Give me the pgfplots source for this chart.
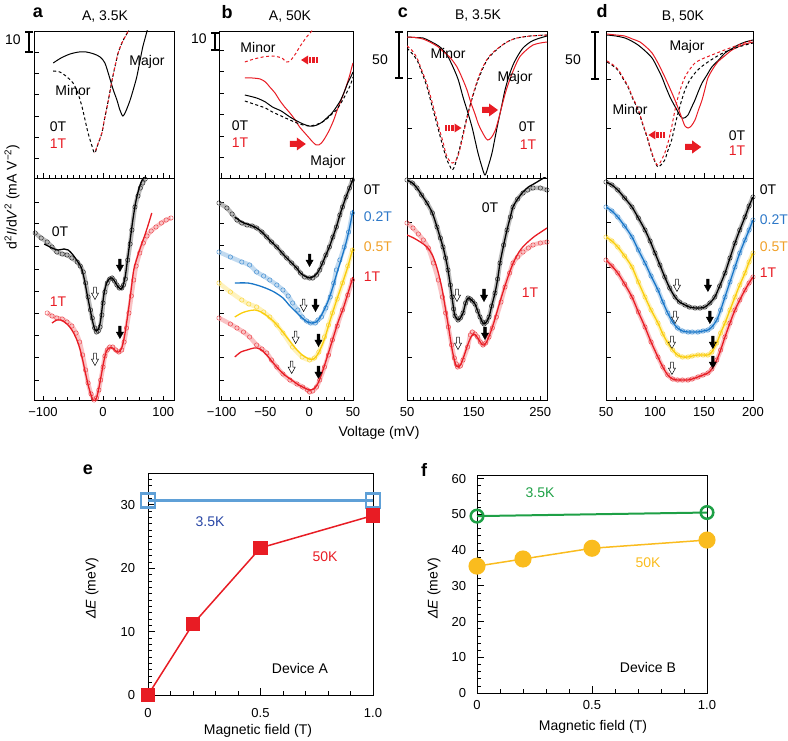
\documentclass[border=0pt]{standalone}
\usepackage{fontspec}
\setmainfont{Liberation Sans}
\usepackage{pgfplots}
\pgfplotsset{compat=1.18}
\usepackage{pgfplotstable}

\definecolor{myred}{RGB}{232,28,36}
\definecolor{myblue}{RGB}{25,118,200}
\definecolor{myyellow}{RGB}{250,205,10}
\definecolor{lblorange}{RGB}{240,160,40}
\definecolor{lblblue}{RGB}{45,120,200}
\definecolor{eblue}{RGB}{95,160,215}
\definecolor{etext}{RGB}{40,70,165}
\definecolor{fgreen}{RGB}{30,160,70}
\definecolor{forange}{RGB}{250,188,30}

\pgfplotsset{
  myax/.style={scale only axis, anchor=south west, tick align=inside, tick pos=left,
    axis line style={line width=0.7pt}, tick style={black, line width=0.6pt},
    major tick length=4.5pt, minor tick length=3pt,
    ticklabel style={font=\fontsize{13}{15}\selectfont},
    /pgf/number format/assume math mode=true, yticklabels={},
    xticklabel style={yshift=-3pt}},
  toppan/.style={myax, xticklabels={}, height=147pt, ymin=-178, ymax=-31},
  botpan/.style={myax, height=222pt, ymin=-400, ymax=-178},
  % measured points: a light band with open circles
  circ/.style={#1!45, opacity=0.6, line width=4.5pt, smooth, mark=o, mark size=2.2pt,
    mark options={#1, line width=0.45pt, opacity=0.8}},
  fitline/.style={#1, line width=1.3pt, smooth},
  curve/.style={#1, line width=1pt, smooth},
  dcurve/.style={#1, line width=1pt, smooth, dash pattern=on 3pt off 2.5pt},
}

% peak markers and shift arrows (all offsets carry units, so axis cs is not used for them)
\newcommand{\openarr}[2]{\draw[black, line width=0.5pt, fill=white] (axis cs:#1,#2) ++(-1.3pt,6pt) -- ++(0pt,-6pt) -- ++(-2.3pt,0pt) -- ++(3.6pt,-6.5pt) -- ++(3.6pt,6.5pt) -- ++(-2.3pt,0pt) -- ++(0pt,6pt) -- cycle;}
\newcommand{\fullarr}[2]{\draw[black, line width=0.5pt, fill=black] (axis cs:#1,#2) ++(-1.3pt,6pt) -- ++(0pt,-6pt) -- ++(-2.3pt,0pt) -- ++(3.6pt,-6.5pt) -- ++(3.6pt,6.5pt) -- ++(-2.3pt,0pt) -- ++(0pt,6pt) -- cycle;}
\newcommand{\bigarr}[2]{\fill[myred] (axis cs:#1,#2) ++(-8pt,3pt) -- ++(7pt,0pt) -- ++(0pt,3.5pt) -- ++(9pt,-6.5pt) -- ++(-9pt,-6.5pt) -- ++(0pt,3.5pt) -- ++(-7pt,0pt) -- cycle;}
\newcommand{\stripL}[2]{\fill[myred] (axis cs:#1,#2) ++(-8.5pt,0pt) -- ++(7pt,4.5pt) -- ++(0pt,-9pt) -- cycle;
  \fill[myred] (axis cs:#1,#2) ++(-0.5pt,-3pt) rectangle ++(2.2pt,6pt);
  \fill[myred] (axis cs:#1,#2) ++(2.8pt,-3pt) rectangle ++(2.2pt,6pt);
  \fill[myred] (axis cs:#1,#2) ++(6.1pt,-3pt) rectangle ++(2.2pt,6pt);}
\newcommand{\stripR}[2]{\fill[myred] (axis cs:#1,#2) ++(8.5pt,0pt) -- ++(-7pt,4.5pt) -- ++(0pt,-9pt) -- cycle;
  \fill[myred] (axis cs:#1,#2) ++(-1.7pt,-3pt) rectangle ++(2.2pt,6pt);
  \fill[myred] (axis cs:#1,#2) ++(-5pt,-3pt) rectangle ++(2.2pt,6pt);
  \fill[myred] (axis cs:#1,#2) ++(-8.3pt,-3pt) rectangle ++(2.2pt,6pt);}
\newcommand{\scalebar}[3]{\draw[line width=1.8pt] (#1,#2) -- (#1,#3);
  \draw[line width=1.5pt] (#1-4,#2) -- (#1+4,#2) (#1-4,#3) -- (#1+4,#3);}

% device B, 50 K: measured curves (fits lie on them)
\pgfplotstableread{
x y
50 -182
56 -185
62 -190
69 -198
76.5 -207
83 -218
89.8 -230
95 -241
100 -253
105 -265
110 -277
115 -288
120.4 -297
125 -302
130.6 -305
135 -307
140.8 -308
146 -308
151 -307
156 -303
161 -297
166 -286
171.4 -273
176.5 -258
181.6 -243
186.5 -230
191.8 -217
196 -206
200 -197
}\dzero
\pgfplotstableread{
x y
50 -207
56 -211
62 -217
69 -226
76.5 -237
83 -250
89.8 -263
96 -276
103 -290
108 -302
113 -313
118 -322
123 -328
128 -331
133.7 -332
138 -332
143.8 -332
149 -331
154 -330
158 -327
163 -320
167 -310
171.4 -297
176.5 -282
181.6 -267
186.5 -253
191.8 -240
196 -230
200 -220
}\dtwo
\pgfplotstableread{
x y
50 -237
56 -241
62 -247
69 -256
76.5 -267
83 -282
89.8 -297
96 -310
103 -323
108 -334
113 -343
118 -350
123 -355
128 -357
133.7 -357
138 -356
143.8 -355
149 -355
154 -355
158 -352
163 -343
167 -333
171.4 -323
176.5 -310
181.6 -297
186.5 -285
191.8 -273
196 -262
200 -253
}\dfive
\pgfplotstableread{
x y
50 -260
56 -266
62 -273
69 -284
76.5 -297
83 -312
89.8 -327
96 -342
103 -357
108 -367
113 -375
118 -379
123 -380
128 -380
133.7 -380
138 -379
143.8 -377
149 -375
154 -373
158 -369
163 -360
167 -350
171.4 -337
176.5 -323
181.6 -310
186.5 -300
191.8 -290
196 -283
200 -277
}\done

\begin{document}
\fontsize{14}{16}\selectfont
\begin{tikzpicture}[x=1pt,y=1pt]
\useasboundingbox (0,0) rectangle (788,-741);

% ---------- a top ----------
\begin{axis}[toppan, at={(34pt,-178pt)}, width=140pt, xmin=-115, xmax=118,
  xtick={-100,0,100}, minor xtick={-110,-100,...,110},
  ytick={-158,-137,-116,-94,-73,-52}]
\addplot[curve=black] coordinates {(-83,-63) (-70,-58) (-55,-54) (-40,-52) (-28,-52) (-15,-54) (-5,-57) (3,-63) (11,-78) (17,-90) (23,-100) (28,-110) (33,-116) (38,-111) (45,-100) (51,-88) (56,-77) (61,-62) (66,-47) (70,-38) (74,-29)};
\addplot[dcurve=black] coordinates {(-83,-71) (-72,-72) (-62,-76) (-50,-83) (-42,-93) (-35,-107) (-30,-120) (-25,-133) (-19,-145) (-14,-153) (-8,-143) (-2,-133) (2,-120) (6.5,-107) (11,-93) (15,-80) (20,-66) (25,-53) (32,-42) (41,-32) (45,-26)};
\addplot[dcurve=myred, dash phase=2.8pt] coordinates {(-14,-153) (-8,-143) (-2,-133) (2,-120) (6.5,-107) (11,-93) (15,-80) (20,-66) (25,-53) (32,-42) (41,-32) (45,-26)};
\end{axis}

% ---------- a bottom ----------
\begin{axis}[botpan, at={(34pt,-400pt)}, width=140pt, xmin=-115, xmax=118,
  xtick={-100,0,100}, xticklabels={−100,0,100}, minor xtick={-100,-80,...,100},
  ytick={-380,-357,-335,-313,-291,-269,-246,-223,-202}]
\addplot[circ=black] coordinates {(-113,-233) (-103,-238) (-93,-242) (-85,-247) (-77,-252) (-68,-254) (-60,-255) (-52,-258) (-43,-262) (-38,-266) (-33,-272) (-29,-283) (-25,-297) (-21,-310) (-18,-318) (-14,-328) (-11,-332) (-8,-331) (-5,-327) (-2,-315) (0,-303) (3,-292) (7,-283) (11,-279) (15,-278) (19,-281) (23,-285) (27,-288) (31,-288) (34,-285) (37,-279) (41,-260) (45,-244) (48,-230) (53,-207) (58,-196) (62,-188) (66,-183) (70,-179)};
\addplot[fitline=black] coordinates {(-98,-244) (-85,-248) (-75,-250) (-65,-249) (-58,-250) (-50,-255) (-43,-261) (-36,-268) (-31,-280) (-27,-293) (-22,-308) (-18,-320) (-14,-329) (-11,-331) (-7,-328) (-4,-320) (-1,-305) (2,-292) (6,-283) (10,-279) (15,-278) (20,-282) (25,-287) (30,-289) (33,-286) (37,-276) (41,-258) (45,-240) (50,-218) (55,-200) (60,-188) (65,-180) (70,-176)};
\addplot[circ=myred] coordinates {(-93,-313) (-85,-316) (-77,-318) (-68,-319) (-60,-322) (-52,-326) (-45,-333) (-39,-342) (-34,-355) (-29,-370) (-25,-383) (-20,-394) (-15,-400) (-11,-398) (-7,-390) (-4,-380) (0,-367) (3,-356) (7,-350) (11,-347) (16,-347) (21,-350) (26,-352) (31,-350) (35,-342) (39,-328) (43,-313) (47,-296) (51,-280) (55,-266) (61,-253) (67,-243) (73,-236) (80,-231) (88,-227) (97,-223) (105,-220) (113,-218)};
\addplot[fitline=myred] coordinates {(-85,-323) (-77,-320) (-70,-320) (-60,-324) (-52,-330) (-45,-338) (-39,-348) (-34,-360) (-29,-374) (-24,-387) (-19,-397) (-15,-401) (-11,-398) (-7,-388) (-3,-375) (1,-362) (5,-352) (10,-348) (16,-348) (21,-351) (26,-352) (31,-348) (36,-335) (41,-315) (46,-293) (51,-270) (57,-257) (63,-246) (69,-236) (75,-225) (81,-213)};
\openarr{-13.5}{-293} \fullarr{28}{-265}
\openarr{-13.5}{-359} \fullarr{28}{-332}
\end{axis}

% ---------- b top ----------
\begin{axis}[toppan, at={(219pt,-178pt)}, width=134pt, xmin=-103, xmax=50,
  xtick={-100,-50,0,50}, minor xtick={-100,-90,...,50},
  ytick={-157,-136,-114,-93,-71,-50}]
\addplot[dcurve=myred] coordinates {(-73.5,-62) (-63,-59) (-53,-57) (-42,-56) (-35,-57) (-31,-58) (-26,-62) (-22,-61) (-19,-58) (-15,-53) (-11,-47) (-7,-42) (-3,-37) (1,-33) (4,-30)};
\addplot[curve=myred] coordinates {(-73.5,-78) (-65,-78) (-56,-79) (-50,-82) (-45,-87) (-39,-93) (-34,-100) (-28,-107) (-22,-113) (-16,-120) (-11,-127) (-5,-133) (0,-138) (4,-142) (8,-145) (11,-145) (14,-143) (18,-138) (23,-130) (28,-120) (32,-110) (37,-99) (42,-87) (46,-76) (49,-66) (50,-63)};
\addplot[curve=black] coordinates {(-73.5,-95) (-60,-98) (-50,-102) (-42,-107) (-32,-111) (-22,-117) (-14,-121) (-7,-124) (0,-126) (5,-126) (9,-125) (15,-122) (20,-118) (26,-113) (31,-107) (36,-100) (40,-92) (44,-83) (48,-76) (50,-72)};
\addplot[dcurve=black] coordinates {(-73.5,-101) (-60,-105) (-50,-108) (-42,-112) (-32,-116) (-22,-120) (-14,-123) (-7,-125) (0,-126) (4,-125.5) (10,-124) (15,-122) (20,-119) (26,-114) (31,-110) (37,-102) (42,-94) (47,-85) (50,-77)};
\stripL{0.4}{-60}
\bigarr{-13}{-144}
\end{axis}

% ---------- b bottom ----------
\begin{axis}[botpan, at={(219pt,-400pt)}, width=134pt, xmin=-103, xmax=50,
  xtick={-100,-50,0,50}, xticklabels={−100,−50,0,50}, minor xtick={-100,-90,...,50},
  ytick={-380,-357,-335,-313,-290,-268,-245,-223,-202}]
\addplot[circ=black] coordinates {(-103,-203) (-94,-208) (-88,-214) (-82.5,-220) (-77,-223) (-71,-225) (-65,-226) (-60,-228) (-54,-232) (-48.5,-237) (-43,-242) (-37,-247) (-31,-253) (-25.7,-258) (-20,-263) (-14.4,-268) (-10,-273) (-5.3,-277) (0.4,-278) (4,-278) (8.4,-275) (12,-270) (15.2,-263) (19,-255) (23,-247) (27,-237) (31,-227) (35,-215) (38,-207) (42,-197) (46,-188) (49.3,-180)};
\addplot[fitline=black] coordinates {(-85,-217) (-77,-222) (-71,-224) (-65,-226) (-60,-228) (-54,-232) (-48.5,-237) (-43,-242) (-37,-247) (-31,-253) (-25.7,-258) (-20,-263) (-14.4,-268) (-10,-273) (-5.3,-276) (0.4,-278) (4,-277) (8.4,-274) (12,-269) (15.2,-263) (19,-255) (23,-247) (27,-237) (31,-227) (35,-215) (38,-207) (42,-197) (46,-188) (50,-179)};
\addplot[circ=myblue] coordinates {(-103,-252) (-90,-257) (-77,-262) (-68,-265) (-60,-272) (-52,-276) (-45,-280) (-37,-285) (-30,-290) (-24,-296) (-18.9,-303) (-13,-310) (-8,-317) (-3,-321) (1.5,-323) (7,-323) (10,-320) (14,-317) (19,-308) (24,-297) (28,-283) (31,-270) (35,-260) (40,-247) (45,-232) (49.3,-213)};
\addplot[fitline=myblue] coordinates {(-85,-283) (-70,-283) (-60,-285) (-50,-288) (-40,-292) (-30,-298) (-22,-306) (-15,-312) (-8,-318) (-2,-322) (3,-323) (8,-322) (12,-318) (17,-310) (22,-300) (27,-287) (32,-272) (37,-258) (42,-243) (46,-228) (50,-210)};
\addplot[circ=myyellow] coordinates {(-103,-283) (-90,-292) (-77,-300) (-69,-304) (-60,-307) (-52,-312) (-45,-317) (-37,-325) (-30,-333) (-19,-347) (-8,-357) (0.4,-360) (6,-358) (11,-352) (17.5,-337) (22,-325) (26.5,-313) (32,-299) (38,-283) (44,-266) (49.3,-250)};
\addplot[fitline=myyellow] coordinates {(-85,-317) (-77,-313) (-70,-311) (-62,-310) (-55,-312) (-48,-316) (-40,-322) (-32,-330) (-24,-339) (-16,-348) (-8,-355) (0,-359) (5,-359) (10,-354) (17,-340) (24,-320) (31,-301) (38,-283) (44,-267) (50,-248)};
\addplot[circ=myred] coordinates {(-103,-318) (-90,-324) (-82.5,-328) (-75,-332) (-68,-337) (-60,-345) (-54,-349) (-48.5,-353) (-43,-360) (-37,-367) (-30,-374) (-22,-380) (-14,-384) (-7.5,-387) (-2,-390) (0.4,-392) (4,-391) (8.4,-387) (12,-380) (17.5,-367) (22,-355) (26.5,-340) (32,-326) (38,-310) (44,-295) (49.3,-280)};
\addplot[fitline=myred] coordinates {(-85,-357) (-78,-352) (-71,-350) (-63,-348) (-56,-349) (-48.5,-355) (-42,-362) (-35,-369) (-28,-375) (-20,-380) (-12,-385) (-5,-388) (0,-390) (5,-389) (9,-385) (13,-377) (18,-364) (23,-350) (28,-336) (33,-322) (39,-308) (44,-294) (50,-277)};
\fullarr{0.4}{-260}
\openarr{-6.4}{-305} \fullarr{7.2}{-305}
\openarr{-15.5}{-337} \fullarr{10.6}{-340}
\openarr{-20}{-367} \fullarr{10.6}{-372}
\end{axis}

% ---------- c top ----------
\begin{axis}[toppan, at={(407pt,-178pt)}, width=140pt, xmin=50, xmax=260,
  xtick={50,150,250}, minor xtick={50,60,...,260}, ytick={-128,-78}]
\addplot[curve=black] coordinates {(50,-37) (62,-37.5) (74,-38) (87,-42) (99.5,-47) (110,-55) (119,-67) (127,-80) (134,-97) (141,-112) (147.5,-127) (152,-140) (156.5,-153) (162,-166) (167,-175) (172,-166) (177.5,-153) (182,-138) (186.5,-123) (192,-106) (197,-90) (203,-76) (209,-65) (216,-56) (224,-48) (235,-42) (245,-39) (260,-36)};
\addplot[curve=myred] coordinates {(50,-37) (62,-37.5) (74,-39) (87,-43) (97,-47) (105,-52) (114,-57) (125,-67) (134,-80) (140,-90) (146,-103) (152,-114) (157,-124) (162,-131) (167,-137) (171,-140) (176,-138) (182,-131) (187,-120) (192,-107) (198,-92) (204,-80) (211,-68) (219,-57) (229,-50) (239,-45) (250,-43) (260,-42)};
\addplot[dcurve=black] coordinates {(50,-48) (57,-53) (65,-60) (72,-72) (80,-87) (86,-102) (92,-117) (98,-132) (104,-147) (110,-160) (115,-167) (117.5,-170) (121,-167) (125,-158) (129.5,-147) (135,-131) (140,-117) (147,-100) (155,-83) (162,-71) (170,-60) (179,-53) (189.5,-47) (200,-42) (215,-38) (235,-36) (260,-35)};
\addplot[dcurve=myred] coordinates {(50,-46) (57,-50) (65,-58) (72,-70) (80,-84) (86,-98) (92,-113) (98,-128) (104,-142) (109,-155) (114,-161) (118,-163) (122,-162) (127,-155) (132,-142) (137,-127) (143,-110) (150,-92) (158,-76) (166,-64) (175,-55) (187,-48) (200,-42) (215,-38) (235,-36) (260,-35)};
\stripR{119}{-128}
\bigarr{174.5}{-110}
\end{axis}

% ---------- c bottom ----------
\begin{axis}[botpan, at={(407pt,-400pt)}, width=140pt, xmin=50, xmax=260,
  xtick={50,150,250}, minor xtick={50,60,...,260}, ytick={-357,-312,-267,-222}]
\addplot[circ=black] coordinates {(50,-180) (58,-183) (65,-188) (72,-195) (80,-203) (88,-213) (95,-227) (100,-238) (104,-247) (108,-258) (111.5,-270) (115,-285) (117.5,-297) (120,-309) (122,-316) (126.5,-320) (130,-318) (134,-313) (138,-303) (141.5,-298) (145,-299) (148,-301) (152,-304) (156,-311) (159.5,-317) (163,-322) (165.5,-324) (169,-322) (173,-317) (177,-306) (182,-293) (186,-279) (189.5,-263) (195,-245) (200,-230) (205,-217) (209,-207) (216,-199) (224,-193) (231,-190) (239,-188) (250,-188) (260,-190)};
\addplot[fitline=black] coordinates {(50,-180) (58,-183) (65,-188) (72,-195) (80,-203) (88,-213) (95,-227) (100,-238) (104,-247) (108,-258) (111.5,-270) (115,-285) (117.5,-297) (120,-309) (122,-316) (126.5,-320) (130,-318) (134,-313) (138,-303) (141.5,-298) (145,-299) (148,-301) (152,-304) (156,-311) (159.5,-317) (163,-322) (165.5,-324) (169,-322) (173,-317) (177,-306) (182,-293) (186,-279) (189.5,-263) (195,-245) (200,-230) (205,-217) (209,-207) (216,-199) (224,-192) (232,-187) (240,-184) (250,-180) (260,-176)};
\addplot[circ=myred] coordinates {(50,-223) (59,-228) (67,-234) (74.5,-240) (82,-248) (89.5,-263) (97,-280) (103,-297) (108,-313) (112,-327) (117,-345) (121,-358) (124,-364) (126,-367) (130,-366) (134,-360) (141,-347) (145,-335) (148,-332) (152,-334) (156,-337) (160,-342) (164,-345) (168,-343) (173,-337) (178,-328) (184,-317) (191,-302) (197,-287) (204,-273) (209,-263) (216,-257) (224,-252) (232,-248) (239,-245) (250,-243) (260,-242)};
\addplot[fitline=myred] coordinates {(50,-235) (60,-238) (70,-242) (80,-247) (88,-255) (95,-268) (102,-287) (108,-310) (113,-330) (117,-347) (121,-360) (124,-366) (127,-367) (131,-364) (136,-355) (141,-345) (146,-337) (150,-334) (154,-336) (158,-340) (162,-344) (166,-345) (170,-341) (175,-333) (181,-321) (188,-305) (195,-290) (203,-274) (210,-262) (218,-252) (225,-246) (233,-241) (242,-236) (251,-232) (260,-228)};
\openarr{125}{-295} \fullarr{165.5}{-295}
\openarr{126.5}{-343} \fullarr{167}{-333}
\end{axis}

% ---------- d top ----------
\begin{axis}[toppan, at={(606pt,-178pt)}, width=147pt, xmin=50, xmax=200,
  xtick={50,100,150,200}, minor xtick={50,60,...,200}, ytick={-128,-79}]
\addplot[curve=black] coordinates {(51,-35) (60,-36) (69.4,-38) (76,-41) (82.7,-45) (90,-51) (97,-58) (102,-67) (107,-77) (111,-87) (115.3,-97) (119,-104) (122.4,-110) (125,-115) (127.6,-118) (131,-117.5) (133.7,-115) (137,-108) (140.8,-100) (144,-92) (148,-83) (153,-75) (158,-67) (165,-60) (171.4,-53) (178,-49) (184.7,-45) (192,-42) (200,-40)};
\addplot[curve=myred] coordinates {(51,-34) (60,-35) (69,-36) (77,-39) (84.7,-42) (91,-47) (97,-53) (103,-63) (110,-77) (117.3,-93) (122,-104) (125.5,-113) (128.5,-121) (130.6,-126) (133.7,-128) (137,-126) (140.8,-120) (144,-111) (148,-100) (151,-89) (154,-78) (159,-69) (164,-62) (171,-56) (178.6,-50) (189,-45) (200,-42)};
\addplot[dcurve=black] coordinates {(51,-62) (56,-65) (62,-70) (67,-78) (72.4,-87) (77,-98) (82.7,-110) (87,-123) (91.8,-137) (95,-148) (98,-157) (101,-164) (103,-167) (106,-165) (110,-160) (113,-151) (117,-140) (120,-127) (123.5,-113) (127,-101) (130.6,-90) (135,-81) (140.8,-73) (147,-67) (154,-62) (162,-57) (171.4,-52) (185,-47) (200,-43)};
\addplot[dcurve=myred] coordinates {(51,-61) (56,-64) (62,-69) (67,-77) (72.4,-86) (77,-97) (82.7,-109) (87,-122) (91.8,-136) (95,-147) (98,-156) (101,-163) (102.5,-165) (105,-163) (110,-153) (114,-140) (117,-127) (120,-112) (123.5,-97) (127,-86) (130.6,-77) (135,-70) (140.8,-63) (148,-59) (158,-55) (171,-50) (185,-45) (200,-40)};
\stripL{102}{-135}
\bigarr{139}{-147}
\end{axis}

% ---------- d bottom ----------
\begin{axis}[botpan, at={(606pt,-400pt)}, width=147pt, xmin=50, xmax=200,
  xtick={50,100,150,200}, minor xtick={50,60,...,200}, ytick={-357,-312,-267,-222}]
\addplot[circ=black] table {\dzero};
\addplot[fitline=black] table {\dzero};
\addplot[circ=myblue] table {\dtwo};
\addplot[fitline=myblue] table {\dtwo};
\addplot[circ=myyellow] table {\dfive};
\addplot[fitline=myyellow] table {\dfive};
\addplot[circ=myred] table {\done};
\addplot[fitline=myred] table {\done};
\openarr{122.4}{-285} \fullarr{154}{-285}
\openarr{120.4}{-317} \fullarr{156}{-317}
\openarr{117.3}{-342} \fullarr{159}{-342}
\openarr{117.3}{-368} \fullarr{159}{-362}
\end{axis}

% ---------- e ----------
\begin{axis}[scale only axis, anchor=south west, at={(148pt,-695pt)}, width=225pt, height=222pt,
  xmin=0, xmax=1, ymin=0, ymax=35, clip=false,
  xtick={0,0.5,1}, xticklabels={0,0.5,1.0}, minor xtick={0.1,0.2,0.3,0.4,0.6,0.7,0.8,0.9},
  ytick={0,10,20,30}, minor ytick={0,1,...,35},
  tick align=inside, tick pos=left, major tick length=7pt, minor tick length=4pt,
  axis line style={line width=0.7pt}, tick style={black, line width=0.6pt},
  ticklabel style={font=\fontsize{13}{15}\selectfont},
  /pgf/number format/assume math mode=true,
  xticklabel style={yshift=-9pt}, yticklabel style={xshift=-8pt}]
\addplot[eblue, line width=2.5pt, mark=square, mark size=7pt, mark options={line width=2.8pt}] coordinates {(0,30.7) (1,30.7)};
\addplot[myred, line width=1.5pt, mark=square*, mark size=6.5pt] coordinates {(0,0) (0.2,11.2) (0.5,23.2) (1,28.3)};
\end{axis}

% ---------- f ----------
\begin{axis}[scale only axis, anchor=south west, at={(477pt,-693pt)}, width=230pt, height=218pt,
  xmin=0, xmax=1, ymin=0, ymax=61, clip=false,
  xtick={0,0.5,1}, xticklabels={0,0.5,1.0}, minor xtick={0.1,0.2,0.3,0.4,0.6,0.7,0.8,0.9},
  ytick={0,10,...,60}, minor ytick={0,2,...,60},
  tick align=inside, tick pos=left, major tick length=7pt, minor tick length=4pt,
  axis line style={line width=0.7pt}, tick style={black, line width=0.6pt},
  ticklabel style={font=\fontsize{13}{15}\selectfont},
  /pgf/number format/assume math mode=true,
  xticklabel style={yshift=-3pt}, yticklabel style={xshift=-6pt}]
\addplot[fgreen, line width=2pt, mark=o, mark size=6.3pt, mark options={line width=2.5pt, fill=white}] coordinates {(0,49.5) (1,50.5)};
\addplot[forange, line width=1.5pt, mark=*, mark size=7.8pt] coordinates {(0,35.5) (0.2,37.5) (0.5,40.5) (1,42.8)};
\end{axis}

% ---------- annotations ----------
\begin{scope}[every node/.style={font=\fontsize{18}{20}\selectfont\bfseries}]
\node at (38,-13) {a}; \node at (227,-12) {b}; \node at (403,-13) {c};
\node at (602,-11) {d}; \node at (88,-470) {e}; \node at (424,-470) {f};
\end{scope}
\node at (105,-17) {A, 3.5K}; \node at (290,-17) {A, 50K};
\node at (478,-16) {B, 3.5K}; \node at (683,-17) {B, 50K};

\scalebar{29}{-32}{-52} \node at (13,-40) {10};
\scalebar{215}{-33}{-50} \node at (199,-39) {10};
\scalebar{399}{-32}{-78} \node at (380,-60) {50};
\scalebar{595}{-32}{-79} \node at (573,-60) {50};

\node at (147,-62) {Major}; \node at (73,-90) {Minor};
\node at (58,-127) {0T}; \node[myred] at (58,-144) {1T};
\node at (258,-47) {Minor}; \node at (328,-162) {Major};
\node at (240,-126) {0T}; \node[myred] at (240,-143) {1T};
\node at (448,-53) {Minor}; \node at (515,-78) {Major};
\node at (527,-127) {0T}; \node[myred] at (528,-145) {1T};
\node at (687,-47) {Major}; \node at (630,-109) {Minor};
\node at (737,-136) {0T}; \node[myred] at (737,-151) {1T};

\node at (60,-232) {0T}; \node[myred] at (58,-302) {1T};
\node[anchor=west] at (359,-190) {0T}; \node[anchor=west, lblblue] at (359,-217) {0.2T};
\node[anchor=west, lblorange] at (359,-247) {0.5T}; \node[anchor=west, myred] at (359,-277) {1T};
\node at (490,-208) {0T}; \node[myred] at (530,-293) {1T};
\node[anchor=west] at (755,-190) {0T}; \node[anchor=west, lblblue] at (755,-220) {0.2T};
\node[anchor=west, lblorange] at (755,-247) {0.5T}; \node[anchor=west, myred] at (755,-273) {1T};

\node at (379,-433) {Voltage (mV)};
\node[rotate=90] at (12,-197) {d\textsuperscript{2}\textit{I}/d\textit{V}\textsuperscript{2} (mA V\textsuperscript{−2})};

\node[etext] at (210,-522) {3.5K}; \node[myred] at (325,-557) {50K};
\node at (300,-668) {Device A};
\node[fgreen] at (540,-493) {3.5K}; \node[forange] at (648,-563) {50K};
\node at (648,-667) {Device B};
\node at (258,-731) {Magnetic field (T)};
\node at (593,-727) {Magnetic field (T)};
\node[rotate=90] at (92,-588) {\textit{ΔE} (meV)};
\node[rotate=90] at (434,-588) {\textit{ΔE} (meV)};
\end{tikzpicture}
\end{document}
